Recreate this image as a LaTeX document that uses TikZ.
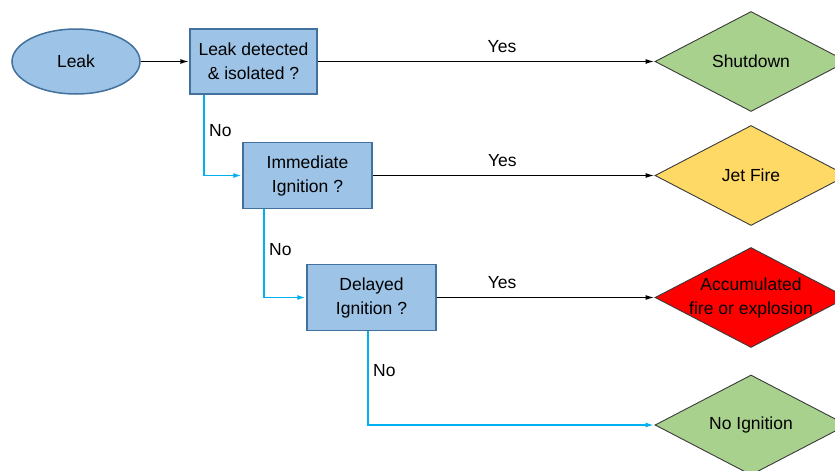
\documentclass[tikz,border=0pt]{standalone}
\usepackage{fontspec}
\setmainfont{Liberation Sans}
\usetikzlibrary{shapes.geometric,arrows.meta}
\definecolor{boxfill}{HTML}{9DC3E6}
\definecolor{boxline}{HTML}{41719C}
\definecolor{nolink}{HTML}{00B0F0}
\definecolor{okgreen}{HTML}{A9D18E}
\definecolor{jetyellow}{HTML}{FFD966}
\definecolor{firered}{HTML}{FF0000}
\definecolor{dline}{HTML}{3A3A3A}
\begin{document}
\begin{tikzpicture}[x=1pt,y=-1pt,
  font=\fontsize{17.5}{24}\selectfont,
  qbox/.style={rectangle, draw=boxline, fill=boxfill, line width=1.5pt, minimum width=127pt, minimum height=65pt, align=center, inner sep=0pt},
  startell/.style={ellipse, draw=boxline, fill=boxfill, line width=1.5pt, minimum width=128pt, minimum height=65pt, inner sep=0pt},
  outcome/.style={diamond, draw=dline, line width=0.9pt, aspect=1.92, inner sep=0pt, minimum width=192pt, minimum height=100pt},
  yesarrow/.style={draw=black, line width=1.5pt, -{Latex[length=9pt,width=5pt]}},
  noarrow/.style={draw=nolink, line width=1.8pt, -{Latex[length=9pt,width=5pt]}},
  yeslabel/.style={above=6pt, inner sep=2pt},
  nolabel/.style={right=3pt, inner sep=1pt}
]
\useasboundingbox (0,0) rectangle (835,471);
\clip (0,0) rectangle (835,471);

\node[startell] (leak) at (76,61.5) {Leak};
\node[qbox] (q1) at (253.5,61.5) {Leak detected\\\& isolated ?};
\node[qbox, minimum width=129pt, minimum height=66pt] (q2) at (307.5,175.5) {Immediate\\Ignition ?};
\node[qbox, minimum width=129pt, minimum height=66pt] (q3) at (371.5,297.5) {Delayed\\Ignition ?};

\node[outcome, fill=okgreen, label={center:Shutdown}] (d1) at (751,61.5) {};
\node[outcome, fill=jetyellow, label={center:Jet Fire}] (d2) at (751,175.5) {};
\node[outcome, fill=firered, label={[align=center]center:Accumulated\\fire or explosion}] (d3) at (751,297.5) {};
\node[outcome, fill=okgreen, label={center:No Ignition}] (d4) at (751,425) {};

\draw[yesarrow] (leak.east) -- (q1.west);
\draw[yesarrow] (q1.east) -- node[yeslabel, pos=0.547] (y1) {Yes} (d1.west);
\draw[yesarrow] (q2.east) -- node[yeslabel, pos=0.46] (y2) {Yes} (d2.west);
\draw[yesarrow] (q3.east) -- node[yeslabel, pos=0.30] (y3) {Yes} (d3.west);

\draw[noarrow] ([xshift=15pt]q1.south west) |- node[nolabel, pos=0.22] (n1) {No} (q2.west);
\draw[noarrow] ([xshift=22pt]q2.south west) |- node[nolabel, pos=0.23] (n2) {No} (q3.west);
\draw[noarrow] ([xshift=62pt]q3.south west) |- node[nolabel, pos=0.21] (n3) {No} (d4.west);
\end{tikzpicture}
\end{document}
